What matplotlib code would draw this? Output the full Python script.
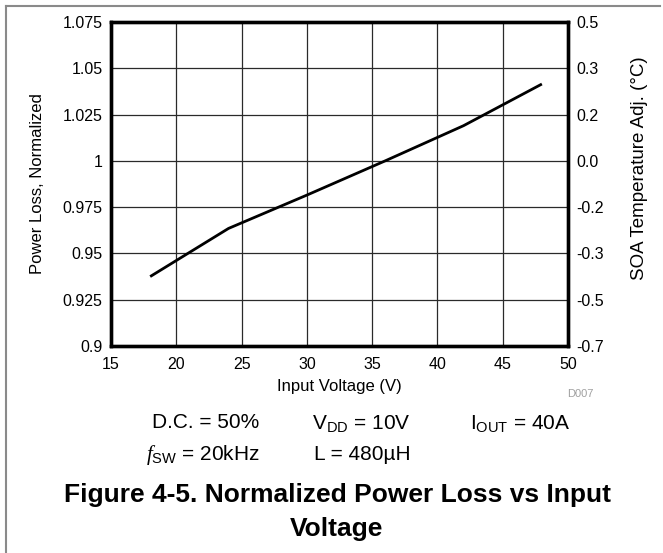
import matplotlib
matplotlib.use("Agg")
import matplotlib.pyplot as plt
from matplotlib.lines import Line2D

plt.rcParams['font.family'] = ['Liberation Sans', 'DejaVu Sans']
plt.rcParams['mathtext.fontset'] = 'custom'
plt.rcParams['mathtext.rm'] = 'Liberation Sans'
plt.rcParams['mathtext.it'] = 'Liberation Serif:italic'

# Data
input_voltage = [18, 24, 30, 36, 42, 48]
power_loss_norm = [0.9375, 0.9635, 0.9815, 1.0, 1.019, 1.0415]

x_ticks = [15, 20, 25, 30, 35, 40, 45, 50]
y_ticks = [0.9, 0.925, 0.95, 0.975, 1.0, 1.025, 1.05, 1.075]
y_tick_labels = ['0.9', '0.925', '0.95', '0.975', '1', '1.025', '1.05', '1.075']
soa_tick_labels = ['-0.7', '-0.5', '-0.3', '-0.2', '0.0', '0.2', '0.3', '0.5']

W, H = 663, 553
fig = plt.figure(figsize=(W / 100, H / 100), dpi=100)

def fx(px):
    return px / W

def fy(py):
    return 1 - py / H

ax = fig.add_axes([fx(111), fy(346), fx(568) - fx(111), fy(22) - fy(346)])
ax.plot(input_voltage, power_loss_norm, color='black', lw=2.0, solid_capstyle='butt')
ax.set_xlim(15, 50)
ax.set_ylim(0.9, 1.075)
ax.set_xticks(x_ticks)
ax.set_xticklabels([str(v) for v in x_ticks])
ax.set_yticks(y_ticks)
ax.set_yticklabels(y_tick_labels)
ax.grid(True, color='#2a2a2a', lw=0.9)
ax.set_axisbelow(True)
ax.tick_params(axis='both', length=0, labelsize=11.5)
ax.tick_params(axis='y', pad=6)
ax.tick_params(axis='x', pad=8)
for s in ax.spines.values():
    s.set_linewidth(2.4)
    s.set_color('black')

ax.set_xlabel('Input Voltage (V)', fontsize=12)
ax.xaxis.set_label_coords(0.5, -0.1265)
ax.xaxis.label.set_va('center')
ax.set_ylabel('Power Loss, Normalized', fontsize=12)
ax.yaxis.set_label_coords(-0.16, 0.5)
ax.yaxis.label.set_va('center')

ax2 = ax.twinx()
ax2.set_ylim(0.9, 1.075)
ax2.set_yticks(y_ticks)
ax2.set_yticklabels(soa_tick_labels)
ax2.tick_params(axis='y', length=0, labelsize=11.5, pad=6)
for s in ax2.spines.values():
    s.set_linewidth(2.4)
ax2.set_ylabel('SOA Temperature Adj. (°C)', fontsize=13.5)
ax2.yaxis.set_label_coords(1.1575, 0.548)
ax2.yaxis.label.set_va('center')

fig.text(fx(593), fy(394), 'D007', color='#a0a0a0', fontsize=8, ha='right', va='center')

ann = 15
fig.text(fx(152), fy(423), 'D.C. = 50%', fontsize=ann, ha='left', va='center')
fig.text(fx(312), fy(423), r'V$_{\mathrm{DD}}$ = 10V', fontsize=ann, ha='left', va='center')
fig.text(fx(470), fy(423), r'I$_{\mathrm{OUT}}$ = 40A', fontsize=ann, ha='left', va='center')
fig.text(fx(146), fy(455), r'$f_{\mathrm{SW}}$ = 20kHz', fontsize=ann, ha='left', va='center')
fig.text(fx(314), fy(455), 'L = 480µH', fontsize=ann, ha='left', va='center')

fig.text(fx(337), fy(495), 'Figure 4-5. Normalized Power Loss vs Input', fontsize=19,
         fontweight='bold', ha='center', va='center')
fig.text(fx(337), fy(529), 'Voltage', fontsize=19, fontweight='bold', ha='center', va='center')

# outer border (left and top)
fig.add_artist(Line2D([fx(5.5), fx(5.5)], [0, fy(5.5)], transform=fig.transFigure,
                      color='#8a8a8a', lw=1.5))
fig.add_artist(Line2D([fx(5.5), fx(660)], [fy(5.5), fy(5.5)], transform=fig.transFigure,
                      color='#8a8a8a', lw=1.5))

fig.savefig('out.png', dpi=100)
